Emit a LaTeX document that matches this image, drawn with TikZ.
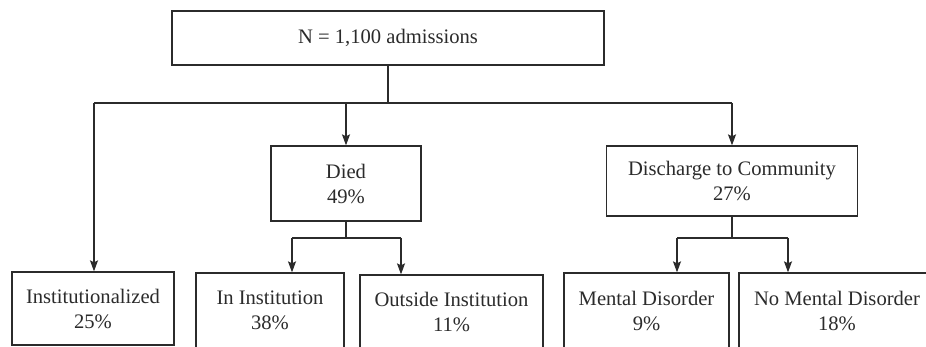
\documentclass[tikz,border=0pt]{standalone}
\usepackage{fontspec}
\setmainfont{Liberation Serif}
\usetikzlibrary{arrows.meta}
\definecolor{ink}{HTML}{2B2B2B}
\begin{document}
\begin{tikzpicture}[x=1pt,y=-1pt,
  line width=1.3pt, draw=ink,
  box/.style={draw=ink, line width=1.3pt, rectangle, inner sep=0pt, align=center,
    text=ink, font=\fontsize{20.6}{25}\selectfont},
  link/.style={draw=ink, line width=1.3pt},
  arr/.style={link, -{Stealth[length=11pt,width=8pt,inset=2pt]}}]
  \useasboundingbox (0,0) rectangle (926,347);
  \clip (0,0) rectangle (926,347);
  \fill[white] (0,0) rectangle (926,347);

  % boxes
  \node[box, minimum width=432pt, minimum height=54pt] (top) at (388,38) {N = 1,100 admissions};
  \node[box, minimum width=150pt, minimum height=75pt] (died) at (346,183.5) {Died\\49\%};
  \node[box, minimum width=251pt, minimum height=70pt] (disc) at (732,181) {Discharge to Community\\27\%};
  \node[box, minimum width=162pt, minimum height=73pt] (inst) at (93,308.5) {Institutionalized\\25\%};
  \node[box, minimum width=148pt, minimum height=75pt] (inin) at (270,310.5) {In Institution\\38\%};
  \node[box, minimum width=183pt, minimum height=73pt] (outin) at (451.5,311.5) {Outside Institution\\11\%};
  \node[box, minimum width=165pt, minimum height=75pt] (ment) at (646.5,310.5) {Mental Disorder\\9\%};
  \node[box, minimum width=196pt, minimum height=75pt] (nment) at (837,310.5) {No Mental Disorder\\18\%};

  % junction points
  \coordinate (busL) at (94,103);
  \coordinate (busR) at (732,103);
  \coordinate (dl) at (292,238);
  \coordinate (dr) at (401,238);
  \coordinate (cl) at (677,238);
  \coordinate (cr) at (788,238);

  % first level
  \draw[link] (top.south) -- (top.south |- busL);
  \draw[link] (busL) -- (busR);
  \draw[arr] (busL) -- (busL |- inst.north);
  \draw[arr] (died.north |- busL) -- (died.north);
  \draw[arr] (busR) -- (busR |- disc.north);

  % split under Died
  \draw[link] (died.south) -- (died.south |- dl);
  \draw[link] (dl) -- (dr);
  \draw[arr] (dl) -- (dl |- inin.north);
  \draw[arr] (dr) -- (dr |- outin.north);

  % split under Discharge
  \draw[link] (disc.south) -- (disc.south |- cl);
  \draw[link] (cl) -- (cr);
  \draw[arr] (cl) -- (cl |- ment.north);
  \draw[arr] (cr) -- (cr |- nment.north);
\end{tikzpicture}
\end{document}
